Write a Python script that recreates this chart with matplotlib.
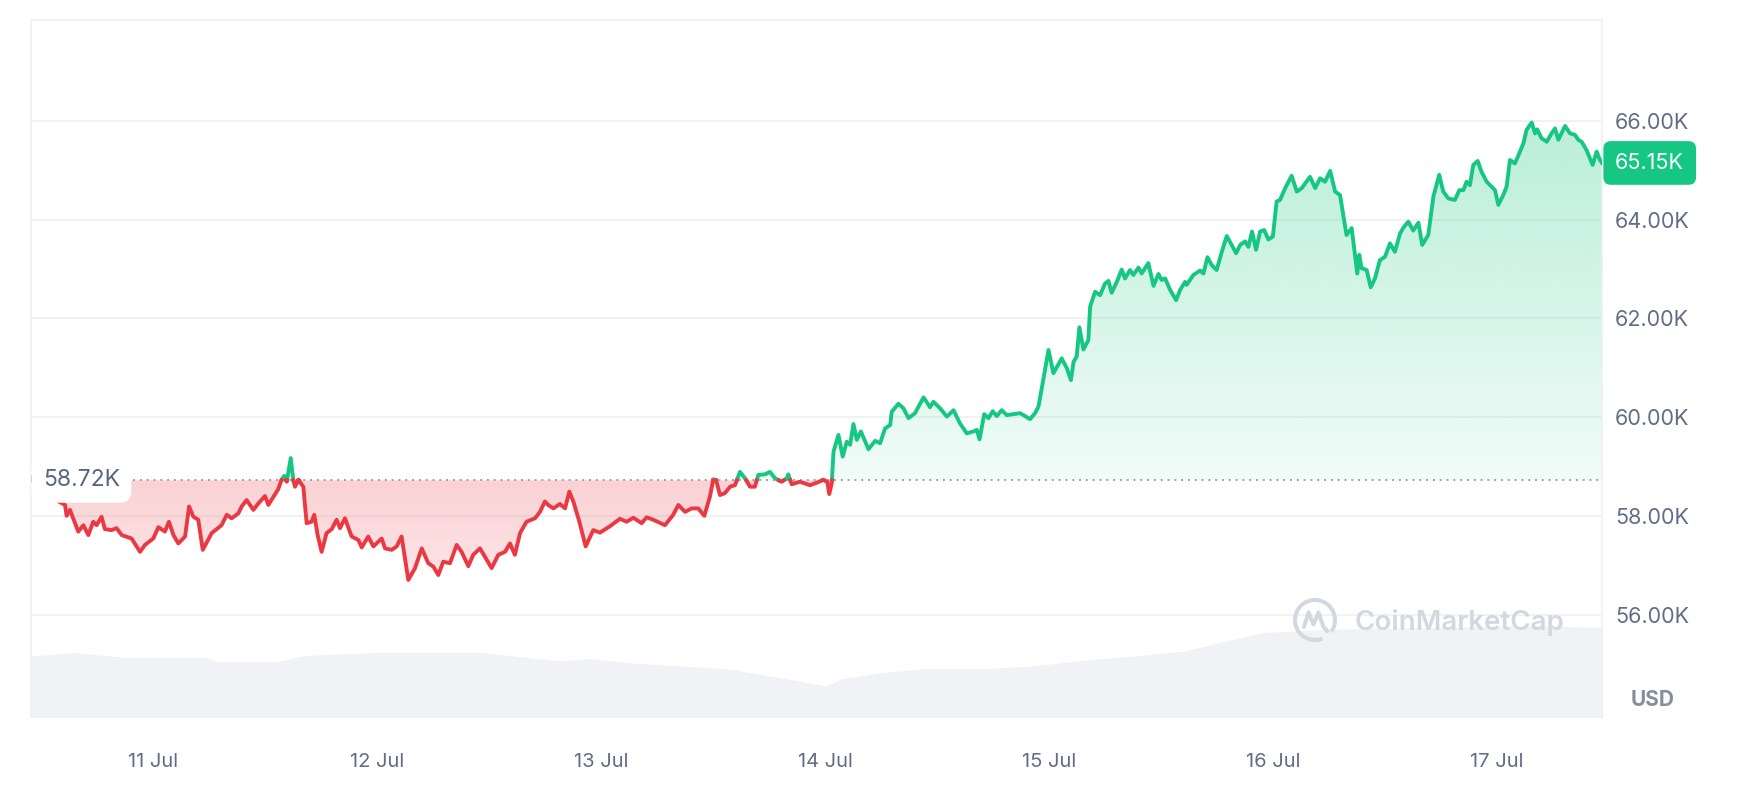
import numpy as np
import matplotlib
matplotlib.use("Agg")
import matplotlib.pyplot as plt
import matplotlib.colors as mcolors
from matplotlib.path import Path
from matplotlib.patches import Arc

plt.rcParams['font.family'] = ['Inter', 'DejaVu Sans']

# BTC price, 10 Jul - 17 Jul, time as fractional day of July, price in thousand USD
days = [10.454, 10.462, 10.470, 10.500, 10.530, 10.565, 10.606, 10.613, 10.628, 10.665,
        10.688, 10.710, 10.732, 10.747, 10.769, 10.784, 10.814, 10.836, 10.859, 10.903,
        10.941, 10.963, 11.000, 11.023, 11.052, 11.070, 11.090, 11.112, 11.142, 11.160,
        11.179, 11.201, 11.221, 11.261, 11.305, 11.328, 11.350, 11.380, 11.395, 11.417,
        11.447, 11.469, 11.499, 11.514, 11.558, 11.573, 11.585, 11.596, 11.614, 11.625,
        11.633, 11.648, 11.670, 11.685, 11.707, 11.719, 11.734, 11.752, 11.774, 11.797,
        11.819, 11.834, 11.856, 11.886, 11.916, 11.931, 11.960, 11.983, 12.020, 12.035,
        12.065, 12.087, 12.109, 12.139, 12.169, 12.199, 12.228, 12.251, 12.273, 12.295,
        12.325, 12.355, 12.377, 12.407, 12.429, 12.459, 12.481, 12.511, 12.541, 12.571,
        12.593, 12.615, 12.638, 12.667, 12.705, 12.727, 12.749, 12.764, 12.787, 12.816,
        12.839, 12.858, 12.876, 12.903, 12.931, 12.965, 12.995, 13.040, 13.084, 13.114,
        13.144, 13.181, 13.203, 13.233, 13.285, 13.322, 13.345, 13.375, 13.404, 13.434,
        13.461, 13.486, 13.501, 13.513, 13.531, 13.553, 13.576, 13.598, 13.620, 13.643,
        13.665, 13.687, 13.702, 13.732, 13.754, 13.777, 13.806, 13.829, 13.836, 13.851,
        13.888, 13.933, 13.963, 13.992, 14.010, 14.019, 14.030, 14.038, 14.060, 14.079,
        14.097, 14.112, 14.127, 14.142, 14.160, 14.194, 14.224, 14.246, 14.268, 14.291,
        14.298, 14.328, 14.350, 14.373, 14.402, 14.440, 14.469, 14.484, 14.514, 14.544,
        14.574, 14.603, 14.633, 14.663, 14.678, 14.690, 14.711, 14.730, 14.749, 14.767,
        14.789, 14.812, 14.842, 14.871, 14.916, 14.938, 14.953, 14.976, 14.998, 15.020,
        15.057, 15.080, 15.098, 15.110, 15.124, 15.136, 15.154, 15.176, 15.184, 15.206,
        15.228, 15.251, 15.266, 15.280, 15.303, 15.325, 15.340, 15.362, 15.377, 15.400,
        15.414, 15.444, 15.467, 15.489, 15.504, 15.519, 15.541, 15.568, 15.586, 15.608,
        15.615, 15.645, 15.675, 15.690, 15.708, 15.727, 15.749, 15.772, 15.794, 15.816,
        15.836, 15.854, 15.876, 15.891, 15.907, 15.925, 15.943, 15.961, 15.980, 16.000,
        16.017, 16.032, 16.055, 16.084, 16.107, 16.129, 16.166, 16.189, 16.211, 16.233,
        16.256, 16.278, 16.300, 16.329, 16.352, 16.377, 16.386, 16.396, 16.419, 16.437,
        16.456, 16.478, 16.501, 16.523, 16.545, 16.568, 16.583, 16.605, 16.627, 16.650,
        16.667, 16.694, 16.717, 16.743, 16.761, 16.784, 16.813, 16.833, 16.851, 16.865,
        16.880, 16.895, 16.915, 16.932, 16.955, 16.977, 16.992, 17.007, 17.029, 17.044,
        17.059, 17.081, 17.101, 17.119, 17.133, 17.156, 17.171, 17.181, 17.200, 17.223,
        17.245, 17.260, 17.275, 17.305, 17.327, 17.349, 17.364, 17.379, 17.401, 17.428,
        17.446, 17.461, 17.470]
prices = [58.72, 58.80, 58.62, 58.50, 58.58, 58.32, 58.22, 58.00, 58.12, 57.68,
          57.81, 57.61, 57.88, 57.81, 57.98, 57.73, 57.71, 57.75, 57.61, 57.54,
          57.27, 57.41, 57.54, 57.77, 57.68, 57.88, 57.61, 57.44, 57.58, 58.19,
          57.98, 57.92, 57.31, 57.65, 57.81, 58.02, 57.95, 58.05, 58.19, 58.32,
          58.12, 58.25, 58.40, 58.22, 58.54, 58.73, 58.81, 58.69, 59.17, 58.73,
          58.59, 58.73, 58.59, 57.85, 57.88, 58.02, 57.61, 57.27, 57.65, 57.73,
          57.92, 57.75, 57.95, 57.58, 57.51, 57.36, 57.58, 57.38, 57.54, 57.34,
          57.31, 57.38, 57.58, 56.70, 56.94, 57.34, 57.04, 56.97, 56.80, 57.07,
          57.04, 57.41, 57.27, 56.98, 57.21, 57.34, 57.17, 56.94, 57.21, 57.27,
          57.44, 57.21, 57.65, 57.88, 57.95, 58.08, 58.29, 58.22, 58.15, 58.24,
          58.15, 58.49, 58.29, 57.88, 57.38, 57.71, 57.66, 57.79, 57.94, 57.88,
          57.96, 57.85, 57.97, 57.92, 57.81, 58.02, 58.22, 58.08, 58.15, 58.15,
          58.00, 58.39, 58.74, 58.73, 58.42, 58.46, 58.59, 58.62, 58.89, 58.76,
          58.59, 58.59, 58.83, 58.84, 58.89, 58.76, 58.69, 58.76, 58.84, 58.64,
          58.69, 58.62, 58.67, 58.73, 58.69, 58.44, 58.66, 59.30, 59.64, 59.20,
          59.50, 59.44, 59.86, 59.54, 59.71, 59.35, 59.52, 59.47, 59.77, 59.84,
          60.11, 60.27, 60.18, 59.98, 60.08, 60.40, 60.20, 60.31, 60.18, 60.01,
          60.14, 59.87, 59.67, 59.71, 59.74, 59.55, 60.06, 59.98, 60.12, 60.02,
          60.14, 60.04, 60.06, 60.08, 59.96, 60.08, 60.21, 60.79, 61.36, 60.89,
          61.19, 60.99, 60.75, 61.12, 61.23, 61.82, 61.37, 61.56, 62.24, 62.54,
          62.47, 62.71, 62.76, 62.52, 62.74, 62.99, 62.81, 62.98, 62.88, 63.03,
          62.91, 63.12, 62.66, 62.90, 62.78, 62.81, 62.58, 62.37, 62.58, 62.74,
          62.68, 62.88, 62.97, 62.91, 63.24, 63.08, 62.98, 63.35, 63.67, 63.49,
          63.32, 63.49, 63.56, 63.45, 63.76, 63.39, 63.76, 63.79, 63.60, 63.66,
          64.37, 64.40, 64.64, 64.89, 64.57, 64.64, 64.87, 64.64, 64.84, 64.77,
          64.99, 64.57, 64.50, 63.69, 63.83, 62.91, 63.29, 63.02, 62.98, 62.63,
          62.81, 63.18, 63.25, 63.52, 63.35, 63.72, 63.84, 63.96, 63.78, 63.94,
          63.49, 63.69, 64.47, 64.91, 64.57, 64.43, 64.40, 64.60, 64.60, 64.77,
          64.70, 65.11, 65.19, 64.97, 64.77, 64.67, 64.60, 64.30, 64.50, 64.67,
          65.21, 65.14, 65.35, 65.55, 65.82, 65.97, 65.75, 65.83, 65.65, 65.58,
          65.75, 65.85, 65.62, 65.90, 65.75, 65.72, 65.62, 65.58, 65.41, 65.11,
          65.38, 65.21, 65.15]

# trading volume (billion USD)
vol_days = [10.454, 10.652, 10.877, 11.237, 11.282, 11.552, 11.687, 12.047, 12.452, 12.587,
            12.812, 12.947, 13.127, 13.352, 13.577, 13.803, 14.004, 14.072, 14.252, 14.433,
            14.703, 14.928, 15.198, 15.378, 15.603, 15.828, 15.963, 16.278, 16.728, 17.178,
            17.470]
volume = [24.5, 25.9, 23.9, 23.9, 22.2, 22.2, 24.8, 26.1, 26.1, 24.8,
          22.5, 23.5, 21.8, 20.5, 19.2, 15.8, 12.4, 15.4, 17.8, 19.4,
          19.4, 20.5, 23.2, 24.5, 26.5, 31.3, 34.0, 35.3, 36.0, 36.7,
          36.0]

open_price = 58.72
last_price = 65.15
x_ticks = [11, 12, 13, 14, 15, 16, 17]
x_labels = ["11 Jul", "12 Jul", "13 Jul", "14 Jul", "15 Jul", "16 Jul", "17 Jul"]
y_ticks = [56, 58, 60, 62, 64, 66]

GREEN = "#16c784"
RED = "#ea3943"
GREY_TXT = "#616e85"
XLIM = (10.454, 17.470)
YLIM = (53.923, 68.047)

# insert crossing points so the colour switch happens exactly on the baseline
t = np.array(days)
p = np.array(prices)
tt, pp = [t[0]], [p[0]]
for i in range(len(t) - 1):
    a, b = p[i] - open_price, p[i + 1] - open_price
    if a * b < 0:
        f = a / (a - b)
        tt.append(t[i] + f * (t[i + 1] - t[i]))
        pp.append(open_price)
    tt.append(t[i + 1])
    pp.append(p[i + 1])
tt, pp = np.array(tt), np.array(pp)

fig = plt.figure(figsize=(17.42, 7.98), dpi=100)
rect = [0.0178, 0.1015, 0.90184, 0.87343]

# volume area in its own axes underneath
axv = fig.add_axes(rect)
axv.fill_between(vol_days, volume, 0, color="#f1f2f5", lw=0)
axv.set_xlim(*XLIM)
axv.set_ylim(0, 280)
axv.axis("off")

ax = fig.add_axes(rect)
ax.patch.set_alpha(0)


def gradient_fill(coll, color, y_lo, y_hi, a_lo, a_hi, z):
    path = Path.make_compound_path(*coll.get_paths())
    coll.remove()
    img = np.zeros((256, 1, 4))
    img[:, 0, :3] = mcolors.to_rgb(color)
    img[:, 0, 3] = np.linspace(a_lo, a_hi, 256)
    im = ax.imshow(img, extent=[XLIM[0], XLIM[1], y_lo, y_hi], origin="lower",
                   aspect="auto", zorder=z, interpolation="bilinear")
    im.set_clip_path(path, transform=ax.transData)


up = ax.fill_between(tt, pp, open_price, where=pp >= open_price, interpolate=True)
gradient_fill(up, GREEN, open_price, 66.3, 0.06, 0.31, 1)
down = ax.fill_between(tt, pp, open_price, where=pp <= open_price, interpolate=True)
gradient_fill(down, RED, 56.5, open_price, 0.12, 0.23, 1)

ax.plot(tt, np.where(pp >= open_price, pp, np.nan), color=GREEN, lw=2.8, zorder=4,
        solid_joinstyle="round")
ax.plot(tt, np.where(pp <= open_price, pp, np.nan), color=RED, lw=2.8, zorder=4,
        solid_joinstyle="round")

ax.axhline(open_price, color="#9aa1ae", lw=1.4, ls=(0, (1, 2.5)), zorder=3)

ax.set_xlim(*XLIM)
ax.set_ylim(*YLIM)
ax.set_xticks(x_ticks)
ax.set_xticklabels(x_labels)
ax.set_yticks(y_ticks)
ax.set_yticklabels([f"{v:.2f}K" for v in y_ticks])
ax.yaxis.tick_right()
ax.tick_params(axis="y", length=0, pad=9.5, labelsize=15.5, labelcolor=GREY_TXT)
ax.tick_params(axis="x", length=0, pad=26, labelsize=14.5, labelcolor=GREY_TXT)
ax.yaxis.grid(True, color="#eff2f5", lw=1.3)
ax.set_axisbelow(True)
for s in ax.spines.values():
    s.set_color("#eceff3")
    s.set_linewidth(1.1)

# start price tag on the left
ax.annotate(f"{open_price:.2f}K", xy=(0, open_price), xycoords=("axes fraction", "data"),
            xytext=(8.5, 0), textcoords="offset points", ha="left", va="center",
            fontsize=16.5, color="#58667e", zorder=6,
            bbox=dict(boxstyle="round,pad=0.5,rounding_size=0.5", fc="white", ec="none"))

# last price tag on the right
ax.annotate(f"{last_price:.2f}K", xy=(1, last_price), xycoords=("axes fraction", "data"),
            xytext=(9.5, 0), textcoords="offset points", ha="left", va="center",
            fontsize=15.5, color="white", zorder=6, annotation_clip=False,
            bbox=dict(boxstyle="round,pad=0.55,rounding_size=0.35", fc=GREEN, ec="none"))

fig.text(1653 / 1742, 1 - 700 / 798, "USD", ha="center", va="center",
         fontsize=15, fontweight="bold", color="#858ea0")

# watermark
fig.text(1355 / 1742, 1 - 623 / 798, "CoinMarketCap", ha="left", va="center",
         fontsize=20, fontweight="semibold", color="#d3d7df")
lx, ly, sz = 1315 / 1742, 1 - 620 / 798, 54
logo = fig.add_axes([lx - sz / 2 / 1742, ly - sz / 2 / 798, sz / 1742, sz / 798])
logo.set_xlim(-1.35, 1.35)
logo.set_ylim(-1.35, 1.35)
logo.axis("off")
logo.add_patch(Arc((0, 0), 2, 2, theta1=-35, theta2=292, color="#d3d7df", lw=2.9))
logo.plot([-0.55, -0.32, -0.08, 0.18, 0.42, 0.62], [-0.35, 0.38, -0.22, 0.38, -0.35, -0.55],
          color="#d3d7df", lw=2.9, solid_joinstyle="round", solid_capstyle="round")

fig.savefig("out.png", dpi=100, facecolor="white")
